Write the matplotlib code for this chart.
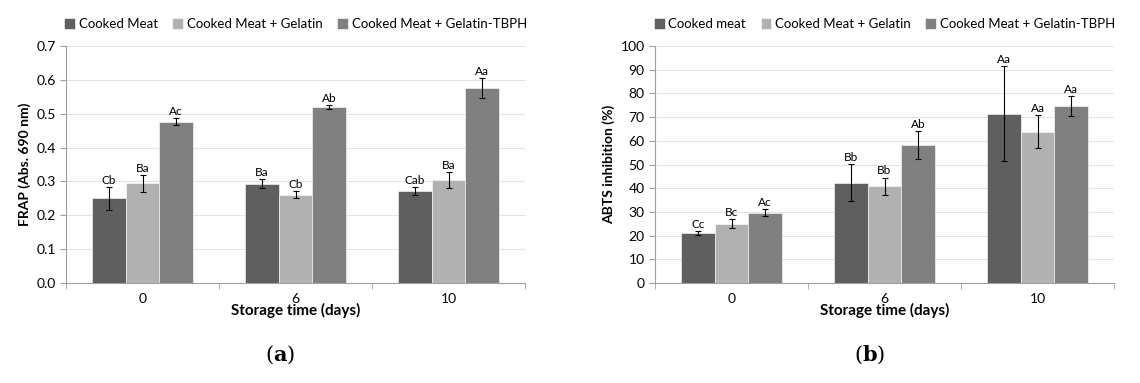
import numpy as np, matplotlib
matplotlib.use("Agg"); import matplotlib.pyplot as plt
plt.rcParams.update({"font.family":["Lato","DejaVu Sans"],"font.size":10,"mathtext.fontset":"dejavuserif"})

days=["0","6","10"]
frap_labels=["Cooked Meat","Cooked Meat + Gelatin","Cooked Meat + Gelatin-TBPH"]
abts_labels=["Cooked meat","Cooked Meat + Gelatin","Cooked Meat + Gelatin-TBPH"]
# FRAP (Abs. 690 nm): rows = treatment, cols = day
frap=[[0.250,0.293,0.272],[0.295,0.261,0.305],[0.476,0.520,0.575]]
frap_err=[[0.033,0.013,0.012],[0.025,0.010,0.024],[0.010,0.006,0.030]]
frap_let=[["Cb","Ba","Cab"],["Ba","Cb","Ba"],["Ac","Ab","Aa"]]
# ABTS inhibition (%)
abts=[[21.0,42.3,71.4],[25.0,40.8,63.9],[29.7,58.2,74.5]]
abts_err=[[0.8,7.8,20.0],[1.8,3.7,7.0],[1.5,6.0,4.2]]
abts_let=[["Cc","Bb","Aa"],["Bc","Bb","Aa"],["Ac","Ab","Aa"]]

cols=["#5f5f5f","#b1b1b1","#808080"]

fig=plt.figure(figsize=(11.4,3.83),dpi=100)
axL=fig.add_axes([66/1140,1-283/383,459/1140,237/383])
axR=fig.add_axes([655/1140,1-283/383,459/1140,237/383])

def panel(ax,vals,errs,lets,labels,ymax,ystep,ylab,fmt,off):
    x=np.arange(len(days)); w=0.22
    for i in range(3):
        xi=x+(i-1)*w
        ax.bar(xi,vals[i],w,color=cols[i],label=labels[i],zorder=2,edgecolor="white",linewidth=0.4)
        ax.errorbar(xi,vals[i],yerr=errs[i],fmt="none",ecolor="black",elinewidth=0.8,capsize=2.5,capthick=0.8,zorder=3)
        for j in range(len(days)):
            ax.text(xi[j],vals[i][j]+errs[i][j]+off,lets[i][j],ha="center",va="bottom",fontsize=8.5)
    ax.set_xlim(-0.5,2.5); ax.set_ylim(0,ymax)
    ax.set_yticks(np.arange(0,ymax+ystep/2,ystep))
    ax.yaxis.set_major_formatter(matplotlib.ticker.FormatStrFormatter(fmt))
    ax.set_xticks(x); ax.set_xticklabels(days)
    ax.set_xticks([-0.5,0.5,1.5,2.5],minor=True)
    ax.tick_params(axis="x",which="major",length=0,pad=7)
    ax.tick_params(axis="x",which="minor",length=4,color="#a0a0a0")
    ax.tick_params(axis="y",length=4,color="#a0a0a0",labelsize=10)
    ax.tick_params(axis="x",labelsize=10)
    ax.grid(axis="y",color="#e3e3e3",lw=0.8,zorder=0)
    for s in ["top","right"]: ax.spines[s].set_visible(False)
    for s in ["left","bottom"]: ax.spines[s].set_color("#a0a0a0")
    ax.set_xlabel("Storage time (days)",fontweight="bold",fontsize=11,labelpad=-1)
    ax.set_ylabel(ylab,fontweight="bold",fontsize=10)
    ax.legend(loc="lower center",bbox_to_anchor=(0.5,1.045),ncol=3,frameon=False,fontsize=9.5,
              handlelength=0.8,handleheight=0.8,handletextpad=0.3,columnspacing=1.1,borderaxespad=0)

panel(axL,frap,frap_err,frap_let,frap_labels,0.7,0.1,"FRAP (Abs. 690 nm)","%.1f",0.003)
panel(axR,abts,abts_err,abts_let,abts_labels,100,10,"ABTS inhibition (%)","%d",0.5)

fig.text(280/1140,1-355/383,r"($\mathbf{a}$)",ha="center",va="center",fontsize=15,family="DejaVu Serif")
fig.text(870/1140,1-355/383,r"($\mathbf{b}$)",ha="center",va="center",fontsize=15,family="DejaVu Serif")
fig.savefig("out.png",dpi=100)
